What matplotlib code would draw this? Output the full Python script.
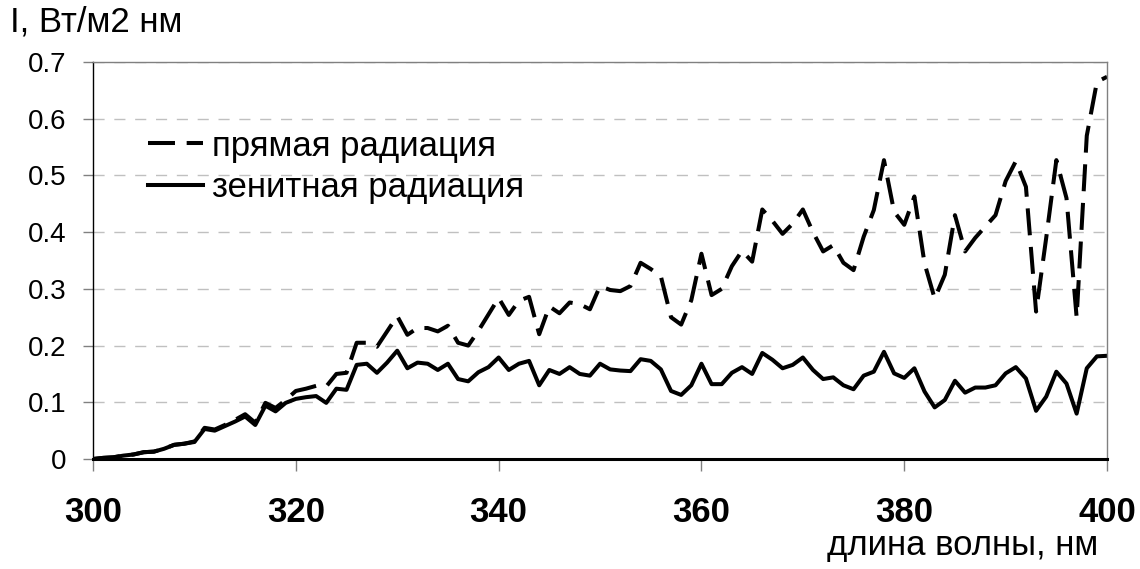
import matplotlib.pyplot as plt
import numpy as np

plt.rcParams['font.family'] = ['Liberation Sans', 'DejaVu Sans']

# wavelength, nm
wl = np.arange(300, 401)

# direct radiation (dashed)
direct = [0.000, 0.002, 0.003, 0.006, 0.008, 0.012, 0.013, 0.018, 0.025, 0.027,
          0.031, 0.055, 0.052, 0.060, 0.069, 0.079, 0.064, 0.099, 0.090, 0.104,
          0.120, 0.124, 0.129, 0.128, 0.150, 0.152, 0.205, 0.205, 0.198, 0.225,
          0.252, 0.219, 0.231, 0.231, 0.225, 0.235, 0.205, 0.200, 0.226, 0.255,
          0.284, 0.254, 0.279, 0.286, 0.220, 0.269, 0.257, 0.276, 0.273, 0.264,
          0.305, 0.298, 0.296, 0.305, 0.346, 0.335, 0.322, 0.250, 0.237, 0.280,
          0.362, 0.289, 0.300, 0.340, 0.367, 0.348, 0.440, 0.420, 0.397, 0.415,
          0.440, 0.400, 0.366, 0.377, 0.346, 0.333, 0.392, 0.439, 0.527, 0.436,
          0.413, 0.463, 0.345, 0.283, 0.325, 0.430, 0.366, 0.390, 0.410, 0.430,
          0.490, 0.525, 0.480, 0.260, 0.390, 0.527, 0.460, 0.250, 0.570, 0.665,
          0.674]

# zenith radiation (solid)
zenith = [0.000, 0.002, 0.003, 0.006, 0.008, 0.012, 0.013, 0.018, 0.025, 0.027,
          0.030, 0.053, 0.050, 0.058, 0.066, 0.075, 0.060, 0.094, 0.084, 0.099,
          0.106, 0.109, 0.111, 0.099, 0.124, 0.122, 0.166, 0.168, 0.152, 0.170,
          0.191, 0.160, 0.170, 0.168, 0.157, 0.168, 0.141, 0.137, 0.153, 0.162,
          0.179, 0.157, 0.168, 0.173, 0.130, 0.157, 0.150, 0.162, 0.150, 0.147,
          0.168, 0.158, 0.156, 0.155, 0.176, 0.173, 0.158, 0.120, 0.113, 0.130,
          0.168, 0.132, 0.132, 0.152, 0.162, 0.150, 0.187, 0.175, 0.160, 0.166,
          0.179, 0.157, 0.141, 0.144, 0.130, 0.123, 0.147, 0.154, 0.189, 0.151,
          0.143, 0.160, 0.119, 0.091, 0.104, 0.138, 0.117, 0.126, 0.126, 0.130,
          0.151, 0.162, 0.142, 0.085, 0.110, 0.154, 0.133, 0.080, 0.160, 0.181,
          0.182]

xticks = [300, 320, 340, 360, 380, 400]
yticks = [0, 0.1, 0.2, 0.3, 0.4, 0.5, 0.6, 0.7]
ylabels = ['0', '0.1', '0.2', '0.3', '0.4', '0.5', '0.6', '0.7']

fig = plt.figure(figsize=(11.4, 5.69), dpi=100)
ax = fig.add_axes([0.0816, 0.1933, 0.8895, 0.6977])

ax.plot(wl, direct, color='black', lw=2.9, dashes=(6.7, 2.9), label='прямая радиация')
ax.plot(wl, zenith, color='black', lw=2.9, label='зенитная радиация')

ax.set_xlim(300, 400)
ax.set_ylim(0, 0.7)
ax.set_xticks(xticks)
ax.set_xticklabels([str(v) for v in xticks], fontsize=25, fontweight='bold')
ax.set_yticks(yticks)
ax.set_yticklabels(ylabels, fontsize=20)

ax.yaxis.grid(True, color='#c0c0c0', ls=(0, (8, 7)), lw=1)
ax.set_axisbelow(True)

for s in ['top', 'right']:
    ax.spines[s].set_color('#808080')
    ax.spines[s].set_linewidth(1)
ax.spines['left'].set_linewidth(1)
ax.spines['bottom'].set_linewidth(2.2)
ax.tick_params(axis='x', length=8.6, width=1, color='#808080', pad=18)
ax.tick_params(axis='y', length=7, width=1, color='#808080', pad=12)

fig.text(10 / 1140, 1 - 32 / 569, 'I, Вт/м2 нм', fontsize=25, ha='left', va='baseline')
fig.text(1098 / 1140, 1 - 555 / 569, 'длина волны, нм', fontsize=25, ha='right', va='baseline')

ax.legend(loc='upper left', bbox_to_anchor=(0.054, 0.83), frameon=False, fontsize=25,
          handlelength=1.6, handletextpad=0.25, labelspacing=0.24,
          borderpad=0, borderaxespad=0)

fig.savefig('out.png', dpi=100)
